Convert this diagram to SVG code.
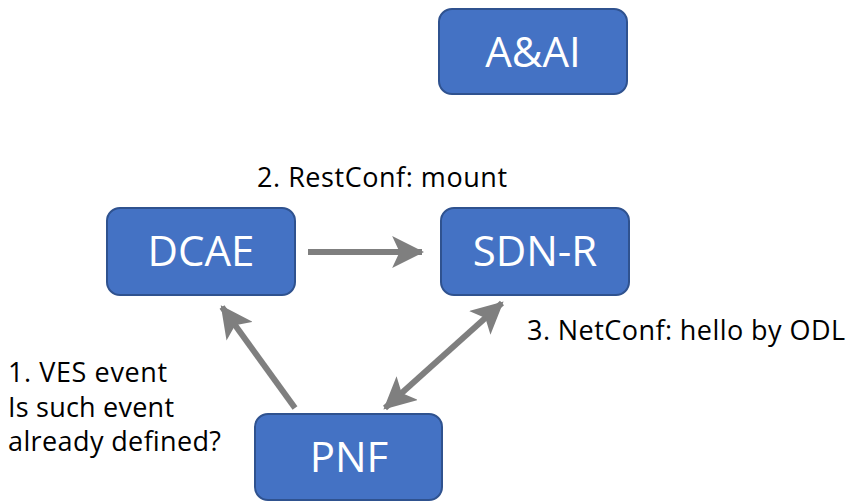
<svg xmlns="http://www.w3.org/2000/svg" width="848" height="503" viewBox="0 0 848 503">
<style>
.node rect{fill:#4472C4;stroke:#2F528F;stroke-width:2}
.node text{fill:#fff;font-family:"Open Sans","Noto Sans",sans-serif;font-size:42px;text-anchor:middle}
.lbl{fill:#000;font-family:"Open Sans","Noto Sans",sans-serif;font-size:27px}
.conn line{stroke:#7F7F7F;stroke-width:6;fill:none}
</style>
<defs>
<marker id="ah" markerUnits="userSpaceOnUse" markerWidth="32" markerHeight="32" viewBox="0 0 30 30" refX="28" refY="15" orient="auto-start-reverse">
<path d="M0,0 L30,15 L0,30 L7,15 z" fill="#7F7F7F"/>
</marker>
</defs>
<rect width="848" height="503" fill="#fff"/>
<g id="node-aai" class="node"><rect x="439" y="9" width="188" height="85" rx="13"/><text x="533" y="67">A&amp;AI</text></g>
<g id="node-dcae" class="node"><rect x="107" y="208" width="188" height="87" rx="13"/><text x="201" y="266">DCAE</text></g>
<g id="node-sdnr" class="node"><rect x="441" y="208" width="188" height="87" rx="13"/><text x="535" y="266">SDN-R</text></g>
<g id="node-pnf" class="node"><rect x="255" y="414" width="187" height="86" rx="13"/><text x="349" y="472">PNF</text></g>
<g id="connectors" class="conn">
<line x1="308" y1="252" x2="422" y2="252" marker-end="url(#ah)"/>
<line x1="295" y1="408" x2="222" y2="307" marker-end="url(#ah)"/>
<line x1="385" y1="408" x2="502" y2="303" marker-start="url(#ah)" marker-end="url(#ah)"/>
</g>
<g id="labels">
<text class="lbl" x="257" y="187" textLength="250">2. RestConf: mount</text>
<text class="lbl" x="527" y="340" textLength="318">3. NetConf: hello by ODL</text>
<text class="lbl" x="8" y="382" textLength="159">1. VES event</text>
<text class="lbl" x="8" y="417" textLength="166">Is such event</text>
<text class="lbl" x="8" y="451" textLength="213">already defined?</text>
</g>
</svg>
